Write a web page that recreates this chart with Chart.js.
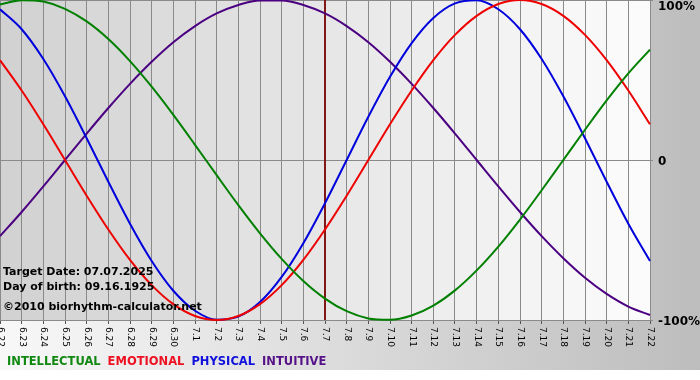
<!DOCTYPE html>
<html><head><meta charset="utf-8">
<script src="https://cdn.jsdelivr.net/npm/chart.js@4/dist/chart.umd.min.js"></script>
<style>html,body{margin:0;padding:0;background:#fff;} canvas{display:block;}</style>
</head><body>
<canvas id="c" width="700" height="380"></canvas>
<script>
const dayLabels = ['6.22','6.23','6.24','6.25','6.26','6.27','6.28','6.29','6.30',
  '7.1','7.2','7.3','7.4','7.5','7.6','7.7','7.8','7.9','7.10','7.11','7.12','7.13',
  '7.14','7.15','7.16','7.17','7.18','7.19','7.20','7.21','7.22'];
const intellectual = [0.972,0.999,0.990,0.945,0.866,0.756,0.618,0.458,0.282,0.095,-0.095,-0.282,-0.458,-0.618,-0.756,-0.866,
  -0.945,-0.990,-0.999,-0.972,-0.910,-0.815,-0.690,-0.541,-0.372,-0.189,0.000,0.189,0.372,0.541,0.690];
const emotional = [0.624,0.434,0.223,0.000,-0.223,-0.434,-0.624,-0.782,-0.901,-0.975,-1.000,-0.975,-0.901,-0.782,-0.624,-0.434,
  -0.223,0.000,0.223,0.434,0.624,0.782,0.901,0.975,1.000,0.975,0.901,0.782,0.624,0.434,0.223];
const physical = [0.942,0.817,0.631,0.398,0.136,-0.136,-0.398,-0.631,-0.817,-0.942,-0.998,-0.979,-0.888,-0.731,-0.520,-0.270,
  0.000,0.270,0.520,0.731,0.888,0.979,0.998,0.942,0.817,0.631,0.398,0.136,-0.136,-0.398,-0.631];
const intuitive = [-0.476,-0.325,-0.165,0.000,0.165,0.325,0.476,0.614,0.736,0.837,0.916,0.969,0.997,0.997,0.969,0.916,
  0.837,0.736,0.614,0.476,0.325,0.165,0.000,-0.165,-0.325,-0.476,-0.614,-0.736,-0.837,-0.916,-0.969];
const yTickValues = [1, 0, -1];
const yTickLabels = ['100%', '0', '-100%'];
const targetIndex = 15;
const infoLines = ['Target Date: 07.07.2025', 'Day of birth: 09.16.1925', '\u00A92010 biorhythm-calculator.net'];
const seriesNames = ['INTELLECTUAL', 'EMOTIONAL', 'PHYSICAL', 'INTUITIVE'];

const lineColors = ['#008000', '#ee0000', '#0000dd', '#4b0082'];
const legendColors = ['#118811', '#ee1122', '#1111dd', '#551188'];

function lerp(a, b, t) { return Math.round(a + (b - a) * t); }

const decor = {
  id: 'decor',
  beforeDraw(chart) {
    const ctx = chart.ctx, ca = chart.chartArea, xs = chart.scales.x;
    ctx.save();
    ctx.fillStyle = '#ffffff';
    ctx.fillRect(0, 0, chart.width, chart.height);
    const g = ctx.createLinearGradient(0, 0, chart.width, 0);
    g.addColorStop(0, '#f8f8f8');
    g.addColorStop(1, '#bdbdbd');
    ctx.fillStyle = g;
    ctx.fillRect(0, 0, chart.width, 370);
    const n = dayLabels.length - 1;
    for (let i = 0; i < n; i++) {
      const x0 = xs.getPixelForValue(i), x1 = xs.getPixelForValue(i + 1);
      const v = lerp(0xd2, 0xfb, i / (n - 1));
      ctx.fillStyle = 'rgb(' + v + ',' + v + ',' + v + ')';
      ctx.fillRect(x0, ca.top, x1 - x0 + 0.5, ca.bottom - ca.top);
    }
    ctx.restore();
  },
  beforeDatasetsDraw(chart) {
    const ctx = chart.ctx, ca = chart.chartArea, xs = chart.scales.x;
    const x = xs.getPixelForValue(targetIndex);
    ctx.save();
    ctx.strokeStyle = '#801818';
    ctx.lineWidth = 2;
    ctx.beginPath();
    ctx.moveTo(x, ca.top);
    ctx.lineTo(x, ca.bottom);
    ctx.stroke();
    ctx.restore();
  },
  afterDraw(chart) {
    const ctx = chart.ctx, ca = chart.chartArea, xs = chart.scales.x, ys = chart.scales.y;
    ctx.save();
    ctx.fillStyle = '#000';
    ctx.font = '9px "DejaVu Sans"';
    ctx.textAlign = 'left';
    ctx.textBaseline = 'middle';
    dayLabels.forEach((lab, i) => {
      const x = xs.getPixelForValue(i);
      ctx.save();
      ctx.translate(x + 0.5, ca.bottom + 7);
      ctx.rotate(Math.PI / 2);
      ctx.fillText(lab, 0, 0);
      ctx.restore();
    });
    ctx.font = 'bold 12px "DejaVu Sans"';
    yTickValues.forEach((v, i) => {
      const y = Math.max(ys.getPixelForValue(v) + 2, 7);
      ctx.fillText(yTickLabels[i], ca.right + 8, y);
    });
    ctx.font = 'bold 11px "DejaVu Sans"';
    const infoY = [272, 287, 307];
    infoLines.forEach((t, i) => ctx.fillText(t, 3, infoY[i]));
    ctx.font = 'bold 11.5px "DejaVu Sans"';
    let lx = 7;
    seriesNames.forEach((name, i) => {
      ctx.fillStyle = legendColors[i];
      ctx.fillText(name, lx, 362);
      lx += ctx.measureText(name).width + 7;
    });
    ctx.restore();
  }
};

const seriesData = [intellectual, emotional, physical, intuitive];
new Chart(document.getElementById('c'), {
  type: 'line',
  data: {
    labels: dayLabels,
    datasets: seriesNames.map((name, i) => ({
      label: name,
      data: seriesData[i],
      borderColor: lineColors[i],
      borderWidth: 2,
      pointRadius: 0,
      cubicInterpolationMode: 'monotone',
      fill: false,
      clip: 4
    }))
  },
  options: {
    responsive: false,
    animation: false,
    devicePixelRatio: 1,
    layout: { padding: { left: 0, right: 47, top: 0, bottom: 56 } },
    plugins: { legend: { display: false }, tooltip: { enabled: false } },
    scales: {
      x: {
        type: 'category',
        offset: false,
        grid: { color: '#8a8a8a', lineWidth: 1, drawTicks: true, tickLength: 4, tickColor: '#555' },
        border: { display: true, color: '#8a8a8a' },
        ticks: { display: false, autoSkip: false }
      },
      y: {
        position: 'right',
        min: -1, max: 1,
        grid: { color: '#8a8a8a', lineWidth: 1, drawTicks: true, tickLength: 3 },
        border: { display: true, color: '#8a8a8a' },
        ticks: { display: false, stepSize: 1 }
      }
    }
  },
  plugins: [decor]
});
</script>
</body></html>
